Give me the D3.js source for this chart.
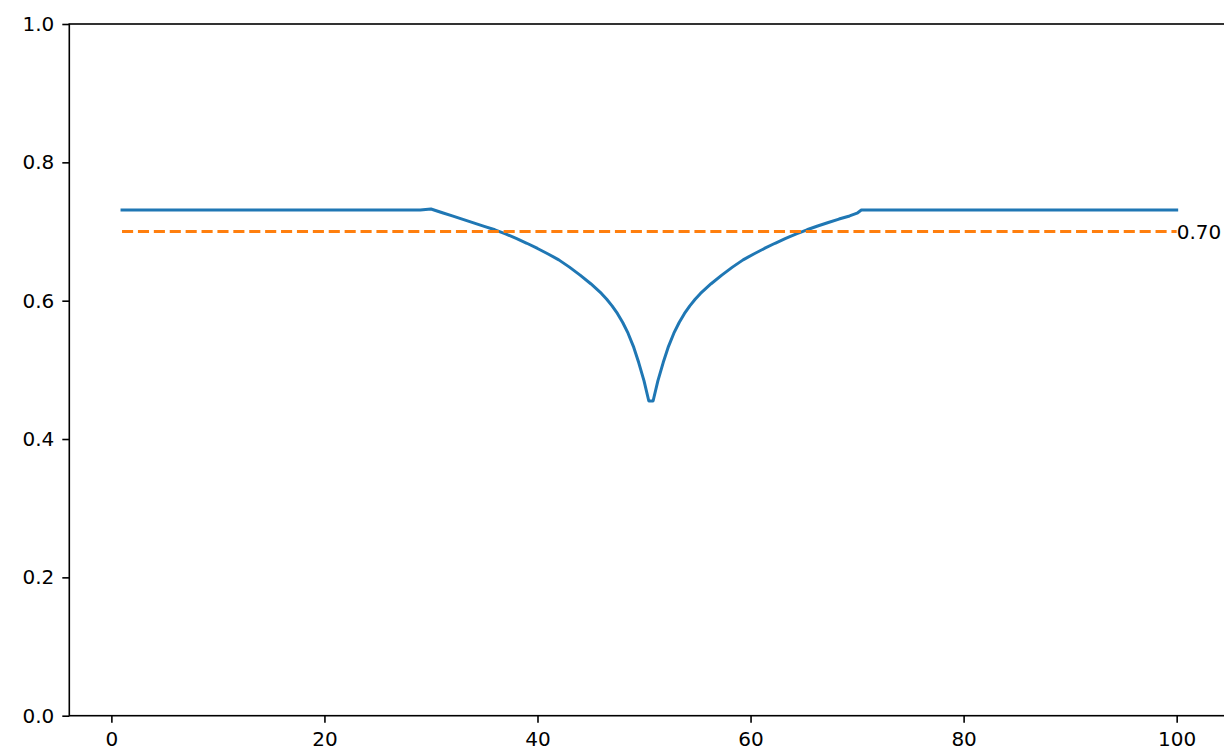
<!DOCTYPE html>
<html>
<head>
<meta charset="utf-8">
<script src="https://cdn.jsdelivr.net/npm/d3@7"></script>
<style>
  body { margin: 0; background: #fff; }
  svg { display: block; font-family: "DejaVu Sans", sans-serif; }
</style>
</head>
<body>
<div id="chart"></div>
<script>
// values
const xValues = [1, 29, 30, 31, 32, 33, 34, 35, 36, 37, 38, 39, 40, 41, 42, 43, 44, 45, 46, 46.5, 47, 47.5, 48, 48.5, 49, 49.5, 50,
  50.45, 50.85,
  51.3, 51.8, 52.3, 52.8, 53.3, 53.8, 54.3, 54.8, 55.3, 56.3, 57.3, 58.3, 59.3, 60.3, 61.3, 62.3, 63.3, 64.3, 65.3, 66.3, 67.3, 68.3, 69.3, 70, 70.4, 100];
const yValues = [0.731, 0.731, 0.7325, 0.7275, 0.7225, 0.7175, 0.7125, 0.7075, 0.7025, 0.6965, 0.690, 0.683, 0.6755, 0.6675, 0.659, 0.6485, 0.637, 0.6245, 0.6105, 0.602, 0.5925, 0.5815, 0.5685, 0.553, 0.534, 0.5105, 0.484,
  0.455, 0.455,
  0.484, 0.5105, 0.534, 0.553, 0.5685, 0.5815, 0.5925, 0.602, 0.6105, 0.6245, 0.637, 0.6485, 0.659, 0.6675, 0.6755, 0.683, 0.690, 0.6965, 0.7025, 0.708, 0.713, 0.718, 0.7225, 0.7265, 0.731, 0.731];
const threshold = 0.70;
const thresholdRange = [1, 100];
const xTicks = [0, 20, 40, 60, 80, 100];
const yTicks = [0, 0.2, 0.4, 0.6, 0.8, 1.0];

const width = 1224, height = 752;
const plotLeft = 69.3, plotBottom = 715.7, plotTop = 24;

const svg = d3.select("#chart").append("svg")
  .attr("width", width)
  .attr("height", height);

const x = d3.scaleLinear().domain([-3.95, 104.95]).range([plotLeft, 1229.4]);
const y = d3.scaleLinear().domain([0, 1]).range([plotBottom, plotTop]);

// spines (right one falls just outside the picture)
svg.append("rect")
  .attr("x", x.range()[0]).attr("y", plotTop)
  .attr("width", x.range()[1] - x.range()[0]).attr("height", plotBottom - plotTop)
  .attr("fill", "none").attr("stroke", "#000").attr("stroke-width", 1.6);

const xAxis = svg.append("g")
  .attr("transform", `translate(0,${plotBottom})`)
  .call(d3.axisBottom(x).tickValues(xTicks).tickFormat(d3.format("d")).tickSize(7).tickPadding(9));

const yAxis = svg.append("g")
  .attr("transform", `translate(${plotLeft},0)`)
  .call(d3.axisLeft(y).tickValues(yTicks).tickFormat(d3.format(".1f")).tickSize(7).tickPadding(8));

[xAxis, yAxis].forEach(g => {
  g.select(".domain").remove();
  g.selectAll(".tick line").attr("stroke", "#000").attr("stroke-width", 1.6);
  g.selectAll(".tick text").attr("fill", "#000").style("font-size", "20px").style("font-family", "DejaVu Sans");
});

const data = xValues.map((v, i) => [v, yValues[i]]);

svg.append("path")
  .datum(data)
  .attr("fill", "none")
  .attr("stroke", "#1f77b4")
  .attr("stroke-width", 3)
  .attr("stroke-linejoin", "round")
  .attr("stroke-linecap", "square")
  .attr("d", d3.line().x(d => x(d[0])).y(d => y(d[1])));

svg.append("line")
  .attr("x1", x(thresholdRange[0])).attr("x2", x(thresholdRange[1]))
  .attr("y1", y(threshold)).attr("y2", y(threshold))
  .attr("stroke", "#ff7f0e")
  .attr("stroke-width", 3)
  .attr("stroke-dasharray", "11.1,4.8");

svg.append("text")
  .attr("x", x(thresholdRange[1]))
  .attr("y", y(threshold))
  .attr("dy", "0.36em")
  .attr("text-anchor", "start")
  .style("font-size", "20px")
  .text(threshold.toFixed(2));
</script>
</body>
</html>
